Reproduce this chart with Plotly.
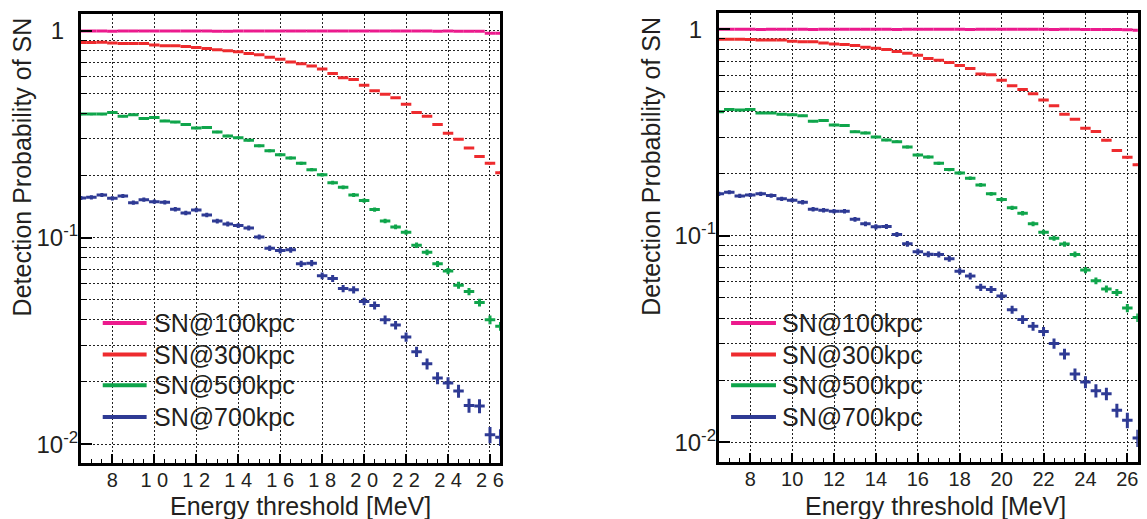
import plotly.graph_objects as go

# ---------------- data ----------------
energy = [6.5, 7.0, 7.5, 8.0, 8.5, 9.0, 9.5, 10.0, 10.5, 11.0, 11.5, 12.0, 12.5, 13.0,
          13.5, 14.0, 14.5, 15.0, 15.5, 16.0, 16.5, 17.0, 17.5, 18.0, 18.5, 19.0, 19.5,
          20.0, 20.5, 21.0, 21.5, 22.0, 22.5, 23.0, 23.5, 24.0, 24.5, 25.0, 25.5, 26.0, 26.5]

series_names = ["SN@100kpc", "SN@300kpc", "SN@500kpc", "SN@700kpc"]
series_colors = ["#ec1a8d", "#ee2b2e", "#0fa54b", "#2e3a94"]

# left panel
p100_L = [1.0, 1.0, 1.0, 0.997, 1.0, 1.0, 1.0, 1.0, 1.0, 0.998, 1.0, 1.0, 1.0, 0.997,
          0.997, 1.0, 1.0, 0.998, 1.0, 1.0, 1.0, 1.0, 1.0, 0.998, 0.998, 0.998, 0.998,
          1.0, 1.0, 1.0, 0.998, 0.998, 0.998, 0.998, 0.997, 1.0, 0.997, 0.997, 0.996, 0.975, 0.975]
p300_L = [0.878, 0.878, 0.882, 0.875, 0.869, 0.869, 0.869, 0.856, 0.849, 0.849, 0.840, 0.831,
          0.822, 0.812, 0.803, 0.792, 0.777, 0.766, 0.746, 0.730, 0.708, 0.693, 0.677, 0.655,
          0.622, 0.593, 0.582, 0.546, 0.513, 0.494, 0.475, 0.442, 0.403, 0.386, 0.353, 0.320,
          0.299, 0.271, 0.247, 0.229, 0.206]
p500_L = [0.396, 0.396, 0.396, 0.403, 0.387, 0.393, 0.377, 0.381, 0.367, 0.362, 0.353, 0.339,
          0.341, 0.324, 0.310, 0.304, 0.296, 0.278, 0.263, 0.252, 0.2425, 0.2286, 0.213, 0.2015,
          0.1844, 0.175, 0.1607, 0.151, 0.1366, 0.1203, 0.1126, 0.1061, 0.0918, 0.0849, 0.0746,
          0.0688, 0.0588, 0.0548, 0.0485, 0.040, 0.0372]
p700_L = [0.1554, 0.1566, 0.1607, 0.1549, 0.1589, 0.1476, 0.1526, 0.1492, 0.1481, 0.137,
          0.1316, 0.136, 0.1287, 0.1203, 0.1164, 0.1143, 0.1113, 0.1007, 0.0888, 0.0865,
          0.0872, 0.0746, 0.0752, 0.0653, 0.0634, 0.0567, 0.0559, 0.0491, 0.0469, 0.0400,
          0.0377, 0.033, 0.028, 0.0245, 0.0209, 0.0198, 0.0181, 0.0154, 0.0153, 0.0111, 0.0108]

# right panel
p100_R = [1.0, 1.0, 1.0, 1.0, 0.998, 1.0, 1.0, 1.0, 1.0, 0.998, 1.0, 1.0, 1.0, 1.0,
          1.0, 1.0, 1.0, 0.998, 1.0, 1.0, 1.0, 1.0, 1.0, 1.0, 0.998, 1.0, 1.0,
          1.0, 1.0, 1.0, 1.0, 1.0, 0.998, 1.0, 1.0, 0.998, 0.998, 0.998, 0.998, 0.995, 0.99]
p300_R = [0.895, 0.895, 0.895, 0.891, 0.888, 0.888, 0.888, 0.875, 0.869, 0.869, 0.859, 0.849,
          0.843, 0.834, 0.819, 0.810, 0.798, 0.780, 0.766, 0.749, 0.722, 0.708, 0.690, 0.668,
          0.646, 0.608, 0.602, 0.567, 0.532, 0.511, 0.487, 0.454, 0.426, 0.388, 0.367, 0.332,
          0.320, 0.290, 0.259, 0.240, 0.221]
p500_R = [0.399, 0.409, 0.406, 0.409, 0.393, 0.393, 0.388, 0.386, 0.381, 0.359, 0.362, 0.344,
          0.342, 0.319, 0.315, 0.301, 0.291, 0.2855, 0.269, 0.246, 0.2407, 0.2244, 0.2092, 0.2015,
          0.19, 0.1764, 0.1596, 0.1498, 0.1366, 0.1287, 0.1143, 0.1041, 0.0974, 0.0912, 0.0813,
          0.0683, 0.0606, 0.0553, 0.0532, 0.0447, 0.0402]
p700_R = [0.1596, 0.1626, 0.156, 0.1577, 0.1596, 0.1566, 0.151, 0.1487, 0.1454, 0.1345,
          0.133, 0.1316, 0.1316, 0.1203, 0.1143, 0.1105, 0.111, 0.1015, 0.0915, 0.0837,
          0.0815, 0.0813, 0.0774, 0.0673, 0.0639, 0.0563, 0.055, 0.0511, 0.0439, 0.0393,
          0.0365, 0.0344, 0.0301, 0.0268, 0.0214, 0.0196, 0.0178, 0.0172, 0.0143, 0.0128, 0.0105]

# statistical errors; None = too small to see
e100 = None
e300 = 0.003
e500_L = [0.0047, 0.0047, 0.0047, 0.0047, 0.0047, 0.0047, 0.0046, 0.0047, 0.0046, 0.0046,
          0.0046, 0.0045, 0.0045, 0.0045, 0.0044, 0.0044, 0.0044, 0.0043, 0.0042, 0.0042,
          0.0041, 0.0040, 0.0039, 0.0038, 0.0037, 0.0036, 0.0035, 0.0034, 0.0033, 0.0031,
          0.0030, 0.0029, 0.0028, 0.0027, 0.0025, 0.0024, 0.0023, 0.0022, 0.0021, 0.0019, 0.0018]
e500_R = [0.0047, 0.0047, 0.0047, 0.0047, 0.0047, 0.0047, 0.0047, 0.0047, 0.0046, 0.0046,
          0.0046, 0.0045, 0.0045, 0.0045, 0.0045, 0.0044, 0.0044, 0.0043, 0.0043, 0.0041,
          0.0041, 0.0040, 0.0039, 0.0038, 0.0037, 0.0036, 0.0035, 0.0034, 0.0033, 0.0032,
          0.0030, 0.0029, 0.0028, 0.0027, 0.0026, 0.0024, 0.0023, 0.0022, 0.0021, 0.0020, 0.0019]
e700_L = [0.0036, 0.0036, 0.0036, 0.0036, 0.0036, 0.0035, 0.0035, 0.0035, 0.0035, 0.0034,
          0.0033, 0.0034, 0.0033, 0.0032, 0.0032, 0.0031, 0.0031, 0.0029, 0.0028, 0.0028,
          0.0028, 0.0026, 0.0026, 0.0024, 0.0024, 0.0023, 0.0023, 0.0021, 0.0021, 0.0019,
          0.0018, 0.0017, 0.0016, 0.0015, 0.0014, 0.0013, 0.0013, 0.0012, 0.0012, 0.0010, 0.0010]
e700_R = [0.0036, 0.0037, 0.0036, 0.0036, 0.0036, 0.0036, 0.0035, 0.0035, 0.0035, 0.0033,
          0.0033, 0.0033, 0.0033, 0.0032, 0.0031, 0.0031, 0.0031, 0.0029, 0.0029, 0.0028,
          0.0027, 0.0027, 0.0026, 0.0024, 0.0024, 0.0023, 0.0022, 0.0022, 0.0020, 0.0019,
          0.0018, 0.0018, 0.0017, 0.0016, 0.0014, 0.0013, 0.0013, 0.0012, 0.0011, 0.0011, 0.0010]

x_tickvals = [8, 10, 12, 14, 16, 18, 20, 22, 24, 26]
x_ticktext_L = ["8", "1 0", "1 2", "1 4", "1 6", "1 8", "2 0", "2 2", "2 4", "2 6"]
x_ticktext_R = ["8", "10", "12", "14", "16", "18", "20", "22", "24", "26"]
y_tickvals = [0.01, 0.1, 1]
y_ticktext = ["10<sup>-2</sup>", "10<sup>-1</sup>", "1<sup>&nbsp;&nbsp;&nbsp;</sup>"]
y_minor = [0.02, 0.03, 0.04, 0.05, 0.06, 0.07, 0.08, 0.09,
           0.2, 0.3, 0.4, 0.5, 0.6, 0.7, 0.8, 0.9]

x_title = "Energy threshold [MeV]"
y_title = "Detection Probability of SN"

# ---------------- figure ----------------
W, H = 1147, 519
FONT = "Liberation Sans, Arial, Helvetica, sans-serif"
TXT = "#231f20"
GRID = "#222222"
fig = go.Figure()


def add_points(xv, yv, err, color, xa, ya):
    if err is None:
        ey = dict(visible=False)
    elif isinstance(err, list):
        ey = dict(type="data", array=err, symmetric=True, width=0, thickness=3, color=color)
    else:
        ey = dict(type="constant", value=err, width=0, thickness=3, color=color)
    fig.add_trace(go.Scatter(
        x=xv, y=yv, mode="markers", xaxis=xa, yaxis=ya,
        marker=dict(size=0, color=color, opacity=0),
        error_x=dict(type="constant", value=0.25, width=0, thickness=3, color=color),
        error_y=ey, showlegend=False, hoverinfo="skip"))


panels = [
    ("x", "y", [p100_L, p300_L, p500_L, p700_L], [e100, e300, e500_L, e700_L]),
    ("x2", "y2", [p100_R, p300_R, p500_R, p700_R], [e100, e300, e500_R, e700_R]),
]
for xa, ya, vals, errs in panels:
    for v, e, c in zip(vals, errs, series_colors):
        add_points(energy, v, e, c, xa, ya)


def px_x(p):
    return p / W


def px_y(p):
    return 1 - p / H


grid_common = dict(showgrid=True, gridcolor=GRID, gridwidth=1, griddash="2px,2px",
                   showline=True, linecolor="black", linewidth=3, mirror=True,
                   zeroline=False, ticks="inside", tickcolor="black", tickwidth=1.5)

xcommon = dict(range=[6.5, 26.5], tickmode="array", tickvals=x_tickvals, ticklen=9,
               tickfont=dict(family=FONT, size=20, color=TXT), ticklabelstandoff=-3,
               minor=dict(dtick=0.5, tick0=6.5, ticks="inside", ticklen=4, tickcolor="black",
                          tickwidth=1.2, showgrid=False),
               **grid_common)
ycommon = dict(type="log", tickmode="array", tickvals=y_tickvals, ticktext=y_ticktext, ticklen=11,
               tickfont=dict(family=FONT, size=24, color=TXT), ticklabelstandoff=-5,
               minor=dict(tickmode="array", tickvals=y_minor, ticks="inside", ticklen=6,
                          tickcolor="black", tickwidth=1.2, showgrid=True, gridcolor=GRID,
                          gridwidth=1, griddash="2px,2px"),
               **grid_common)

fig.update_layout(
    width=W, height=H, margin=dict(l=0, r=0, t=0, b=0),
    paper_bgcolor="white", plot_bgcolor="white", showlegend=False,
    xaxis=dict(domain=[px_x(81.1), px_x(501.8)], anchor="y", ticktext=x_ticktext_L, **xcommon),
    yaxis=dict(domain=[px_y(463.3), px_y(13.3)], anchor="x", range=[-2.093, 0.0807], **ycommon),
    xaxis2=dict(domain=[px_x(720.7), px_x(1140.8)], anchor="y2", ticktext=x_ticktext_R, **xcommon),
    yaxis2=dict(domain=[px_y(462.3), px_y(12.3)], anchor="x2", range=[-2.097, 0.0773], **ycommon),
)

annotations = []
shapes = []
legend_rows = [322.7, 354.3, 385.0, 416.7]
for cx, ycx, key_x0, key_x1, txt_x in [(301.5, 23, 103, 147, 152), (938, 653, 733, 778, 782)]:
    annotations.append(dict(text=x_title, xref="paper", yref="paper", x=px_x(cx), y=px_y(490),
                            xanchor="center", yanchor="top", showarrow=False,
                            font=dict(family=FONT, size=25, color=TXT)))
    annotations.append(dict(text=y_title, xref="paper", yref="paper", x=px_x(ycx), y=px_y(14),
                            xanchor="center", yanchor="top", showarrow=False, textangle=-90,
                            font=dict(family=FONT, size=25, color=TXT)))
    # legend (keys + labels)
    for ry, n, c in zip(legend_rows, series_names, series_colors):
        shapes.append(dict(type="line", xref="paper", yref="paper",
                           x0=px_x(key_x0), x1=px_x(key_x1), y0=px_y(ry), y1=px_y(ry),
                           line=dict(color=c, width=4)))
        annotations.append(dict(text=n, xref="paper", yref="paper", x=px_x(txt_x), y=px_y(ry),
                                xanchor="left", yanchor="middle", showarrow=False,
                                font=dict(family=FONT, size=25, color=TXT)))
fig.update_layout(annotations=annotations, shapes=shapes)

fig.write_html("out.html")
